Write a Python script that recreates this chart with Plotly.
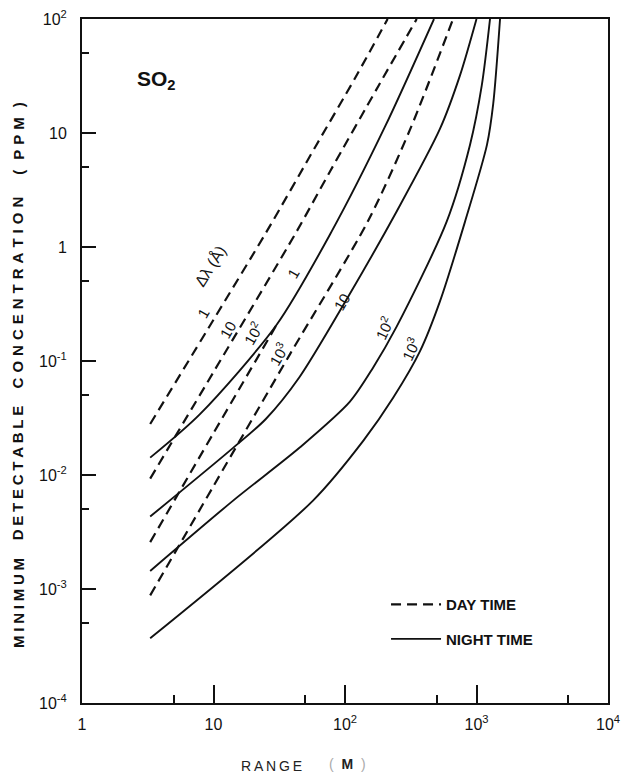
import plotly.graph_objects as go

# ---------------- data ----------------
# Day time curves (dashed), delta-lambda = 1, 10, 10^2, 10^3 Angstrom
day_1_x = [3.3, 10, 25.4, 60, 120, 211]
day_1_y = [0.028, 0.23, 1.37, 7.7, 30.7, 100]

day_10_x = [3.3, 10, 42.9, 76.9, 180, 351]
day_10_y = [0.0093, 0.080, 1.37, 4.6, 26, 100]

day_100_x = [3.3, 10, 30.3]
day_100_y = [0.00258, 0.0233, 0.209]

day_1000_x = [3.3, 10, 38.2, 150, 312, 663]
day_1000_y = [0.00088, 0.0080, 0.115, 1.7, 10.7, 100]

# Night time curves (solid)
night_1_x = [3.3, 7.89, 30.3, 79.2, 201, 475]
night_1_y = [0.0142, 0.0342, 0.209, 1.37, 11.3, 100]

night_10_x = [3.3, 14.1, 25, 45, 103, 247, 528, 749, 1000]
night_10_y = [0.00432, 0.0173, 0.031, 0.072, 0.348, 2.05, 10.9, 32, 100]

night_100_x = [3.3, 14.1, 45.5, 109, 163, 247, 593, 893, 1096, 1267]
night_100_y = [0.00144, 0.00596, 0.0175, 0.044, 0.0869, 0.2, 1.67, 7.9, 26, 100]

night_1000_x = [3.3, 57.1, 138, 233, 372, 528, 818, 1202, 1340, 1510]
night_1000_y = [0.00037, 0.00596, 0.020, 0.0478, 0.122, 0.335, 1.67, 7.9, 18, 100]

curve_labels = ["1", "10", "10<sup>2</sup>", "10<sup>3</sup>"]

x_tickvals = [1, 10, 100, 1000, 10000]
x_ticktext = ["1", "10", "10<sup>2</sup>", "10<sup>3</sup>", "10<sup>4</sup>"]
x_minor = [5, 50, 500, 5000]

y_tickvals = [1e-4, 1e-3, 1e-2, 1e-1, 1, 10, 100]
y_ticktext = ["10<sup>-4</sup>", "10<sup>-3</sup>", "10<sup>-2</sup>", "10<sup>-1</sup>",
              "1", "10", "10<sup>2</sup>"]
y_minor = [5e-4, 5e-3, 5e-2, 0.5, 5, 50]

# ---------------- figure ----------------
INK = "#111111"
FONT = "Liberation Sans"
DASH = "10px,6px"

fig = go.Figure()

day_series = [(day_1_x, day_1_y), (day_10_x, day_10_y),
              (day_100_x, day_100_y), (day_1000_x, day_1000_y)]
night_series = [(night_1_x, night_1_y), (night_10_x, night_10_y),
                (night_100_x, night_100_y), (night_1000_x, night_1000_y)]

for i, (xs, ys) in enumerate(day_series):
    fig.add_trace(go.Scatter(
        x=xs, y=ys, mode="lines", name="DAY TIME", legendgroup="day",
        showlegend=(i == 0),
        line=dict(color=INK, width=2.2, dash=DASH, shape="spline", smoothing=0.8)))

for i, (xs, ys) in enumerate(night_series):
    fig.add_trace(go.Scatter(
        x=xs, y=ys, mode="lines", name="NIGHT TIME", legendgroup="night",
        showlegend=(i == 0),
        line=dict(color=INK, width=1.9, shape="spline", smoothing=0.8)))

annotations = []

def ann(**kw):
    base = dict(showarrow=False, xanchor="center", yanchor="middle")
    base.update(kw)
    annotations.append(base)

# curve labels (positions in log10 data units)
day_label_pos = [(0.920, -0.580), (1.110, -0.720), (1.293, -0.755), (1.490, -0.930)]
night_label_pos = [(1.605, -0.230), (1.977, -0.475), (2.289, -0.711), (2.494, -0.886)]
for txt, (lx, ly) in zip(curve_labels, day_label_pos):
    ann(x=lx, y=ly, xref="x", yref="y", text=txt, textangle=-60,
        font=dict(family=FONT, size=15, color=INK))
for txt, (lx, ly), ang in zip(curve_labels, night_label_pos, [-60, -60, -65, -65]):
    ann(x=lx, y=ly, xref="x", yref="y", text=txt, textangle=ang,
        font=dict(family=FONT, size=15, color=INK))

ann(x=0.973, y=-0.169, xref="x", yref="y", text="Δλ (Å)", textangle=-58,
    font=dict(family=FONT, size=16, color=INK))

ann(x=0.570, y=1.466, xref="x", yref="y", text="<b>SO<sub>2</sub></b>",
    font=dict(family=FONT, size=21, color=INK))

# y-axis title, word by word with letter spacing
sp3 = "\u2004"
sp4 = "\u2005"
def spaced(word, sp):
    return sp.join(list(word))

ytitle_words = [(spaced("MINIMUM", sp4), 0.146), (spaced("DETECTABLE", sp4), 0.337),
                (spaced("CONCENTRATION", sp3), 0.600),
                ("(" + sp3 + sp3 + spaced("PPM", sp3) + sp3 + sp3 + ")", 0.826)]
for w, py in ytitle_words:
    ann(x=-0.122, y=py, xref="paper", yref="paper", text="<b>" + w + "</b>",
        textangle=-90, font=dict(family=FONT, size=15, color=INK))

# x-axis title
ann(x=0.361, y=-0.092, xref="paper", yref="paper",
    text="\u2009".join(list("RANGE")), font=dict(family=FONT, size=14, color="#222"))
ann(x=0.504, y=-0.089, xref="paper", yref="paper",
    text="<span style='color:#aaa'>(</span>  <b>M</b>  <span style='color:#aaa'>)</span>",
    font=dict(family=FONT, size=14, color="#222"))

axis_common = dict(
    showline=True, linewidth=2, linecolor=INK, mirror=True, automargin=False,
    showgrid=False, zeroline=False, ticks="inside", tickwidth=2, tickcolor=INK,
    tickfont=dict(family=FONT, size=16, color=INK), ticklabeloverflow="allow",
)

# the page body adds an 8px offset, so the figure is sized/margined to compensate
fig.update_layout(
    width=625, height=768, autosize=False,
    margin=dict(l=74, r=25, t=11, b=73),
    paper_bgcolor="white", plot_bgcolor="white",
    xaxis=dict(type="log", range=[0, 4], tickvals=x_tickvals, ticktext=x_ticktext,
               ticklen=18, ticklabelstandoff=6,
               minor=dict(tickvals=x_minor, ticks="inside", ticklen=8, tickwidth=2,
                          tickcolor=INK, showgrid=False),
               **axis_common),
    yaxis=dict(type="log", range=[-4, 2], tickvals=y_tickvals, ticktext=y_ticktext,
               ticklen=14, ticklabelstandoff=10,
               minor=dict(tickvals=y_minor, ticks="inside", ticklen=7, tickwidth=2,
                          tickcolor=INK, showgrid=False),
               **axis_common),
    legend=dict(x=0.578, y=0.168, xanchor="left", yanchor="top", itemwidth=50,
                traceorder="grouped", tracegroupgap=12, bgcolor="rgba(0,0,0,0)",
                font=dict(family=FONT, size=15, color=INK, weight="bold")),
    annotations=annotations,
    showlegend=True,
)

fig.write_html("out.html")
